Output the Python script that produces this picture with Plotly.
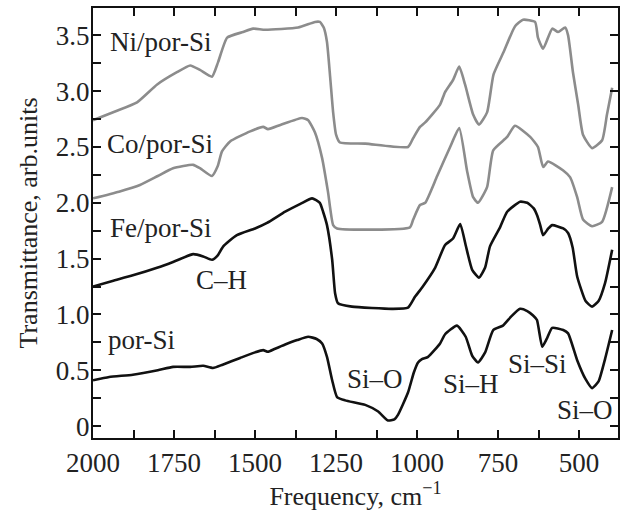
import plotly.graph_objects as go

# ---- data (frequency cm^-1, transmittance arb. units) ----
por_f = [2000, 1950, 1877, 1800, 1753, 1700, 1660, 1630, 1600, 1546, 1500, 1475, 1460, 1440, 1407, 1370, 1336,
         1310, 1293, 1278, 1262, 1247, 1222, 1160, 1120, 1090, 1070, 1059, 1028, 1010, 997, 985, 966, 929, 914,
         877, 850, 830, 812, 790, 765, 735, 710, 682, 660, 642, 630, 614, 600, 583, 549, 534, 506, 480, 460,
         440, 420, 398]
por_y = [0.41, 0.44, 0.46, 0.50, 0.53, 0.53, 0.54, 0.52, 0.55, 0.61, 0.66, 0.68, 0.665, 0.69, 0.73, 0.77, 0.80,
         0.78, 0.74, 0.62, 0.41, 0.26, 0.23, 0.19, 0.13, 0.05, 0.06, 0.10, 0.30, 0.48, 0.57, 0.60, 0.62, 0.74, 0.82,
         0.90, 0.80, 0.63, 0.57, 0.66, 0.86, 0.90, 0.98, 1.05, 1.03, 0.99, 0.95, 0.71, 0.78, 0.88, 0.86, 0.83, 0.59,
         0.42, 0.34, 0.40, 0.60, 0.86]

fe_f = [2000, 1940, 1877, 1800, 1753, 1691, 1660, 1633, 1615, 1598, 1556, 1500, 1463, 1407, 1360, 1324, 1300,
        1290, 1278, 1262, 1253, 1244, 1201, 1077, 1028, 1006, 985, 944, 914, 889, 867, 850, 830, 809, 790, 775,
        744, 722, 682, 660, 640, 630, 620, 611, 595, 583, 549, 534, 520, 506, 480, 460, 440, 420, 398]
fe_y = [1.25, 1.30, 1.35, 1.42, 1.47, 1.54, 1.52, 1.49, 1.53, 1.61, 1.71, 1.77, 1.82, 1.92, 1.99, 2.04, 2.00,
        1.92, 1.80, 1.49, 1.19, 1.10, 1.07, 1.05, 1.06, 1.16, 1.24, 1.42, 1.62, 1.68, 1.81, 1.62, 1.40, 1.33, 1.42,
        1.61, 1.78, 1.92, 2.01, 2.00, 1.95, 1.89, 1.80, 1.71, 1.77, 1.80, 1.77, 1.73, 1.60, 1.34, 1.12, 1.07,
        1.12, 1.28, 1.58]

co_f = [2000, 1920, 1855, 1800, 1753, 1691, 1670, 1633, 1615, 1602, 1577, 1515, 1475, 1460, 1420, 1355, 1336,
        1315, 1293, 1275, 1259, 1247, 1022, 1012, 991, 975, 938, 898, 870, 846, 827, 812, 784, 765, 722, 698,
        651, 627, 611, 596, 549, 528, 506, 488, 460, 429, 398]
co_y = [2.04, 2.10, 2.16, 2.24, 2.31, 2.34, 2.31, 2.24, 2.33, 2.46, 2.55, 2.64, 2.68, 2.66, 2.70, 2.76, 2.74,
        2.63, 2.40, 2.10, 1.80, 1.77, 1.78, 1.85, 1.98, 2.00, 2.24, 2.50, 2.67, 2.29, 2.05, 2.00, 2.14, 2.47, 2.59,
        2.69, 2.59, 2.50, 2.32, 2.37, 2.29, 2.23, 2.05, 1.85, 1.79, 1.83, 2.14]

ni_f = [2000, 1930, 1864, 1802, 1741, 1700, 1670, 1633, 1614, 1586, 1537, 1506, 1469, 1367, 1315, 1300, 1288,
        1278, 1268, 1259, 1250, 1238, 1160, 1028, 1012, 991, 975, 929, 914, 889, 870, 852, 827, 809, 784, 764,
        733, 698, 673, 636, 627, 611, 583, 565, 543, 534, 519, 503, 488, 460, 429, 414, 398]
ni_y = [2.74, 2.82, 2.90, 3.06, 3.17, 3.23, 3.19, 3.13, 3.26, 3.48, 3.53, 3.56, 3.55, 3.57, 3.62, 3.62, 3.57,
        3.44, 3.12, 2.81, 2.61, 2.54, 2.53, 2.50, 2.58, 2.68, 2.72, 2.88, 2.99, 3.10, 3.22, 3.06, 2.79, 2.70, 2.81,
        3.15, 3.35, 3.58, 3.64, 3.62, 3.48, 3.38, 3.56, 3.53, 3.57, 3.50, 3.17, 2.88, 2.61, 2.49, 2.56, 2.79, 3.03]

x_tick_vals = [2000, 1750, 1500, 1250, 1000, 750, 500]
x_tick_text = ["2000", "1750", "1500", "1250", "1000", "750", "500"]
x_minor_vals = [1875, 1625, 1375, 1125, 875, 625]
y_tick_vals = [0, 0.5, 1.0, 1.5, 2.0, 2.5, 3.0, 3.5]
y_tick_text = ["0", "0.5", "1.0", "1.5", "2.0", "2.5", "3.0", "3.5"]
y_minor_vals = [0.25, 0.75, 1.25, 1.75, 2.25, 2.75, 3.25]

labels = ["Ni/por-Si", "Co/por-Si", "Fe/por-Si", "C–H", "por-Si", "Si–O", "Si–H", "Si–Si", "Si–O"]
label_f = [1793, 1793, 1793, 1602, 1849, 1130, 833, 627, 482]
label_y = [3.44, 2.53, 1.77, 1.31, 0.77, 0.42, 0.38, 0.56, 0.14]

GRAY = "#8c8c8c"
BLACK = "#111111"
FONT = "Liberation Serif"

fig = go.Figure()
for f, y, c in [(ni_f, ni_y, GRAY), (co_f, co_y, GRAY), (fe_f, fe_y, BLACK), (por_f, por_y, BLACK)]:
    fig.add_trace(go.Scatter(x=f, y=y, mode="lines",
                             line=dict(color=c, width=2.6, shape="spline", smoothing=0.5),
                             showlegend=False, hoverinfo="skip"))

for t, fx, fy in zip(labels, label_f, label_y):
    fig.add_annotation(x=fx, y=fy, text=t, showarrow=False, xanchor="center", yanchor="middle",
                       font=dict(family=FONT, size=27, color="#222"))

axis_common = dict(showline=True, linewidth=2, linecolor="#111", mirror="allticks", ticks="inside",
                   ticklen=8, tickwidth=1.5, tickcolor="#111", showgrid=False, zeroline=False,
                   tickfont=dict(family=FONT, size=27, color="#222"))
fig.update_xaxes(range=[2000, 380], tickmode="array", tickvals=x_tick_vals, ticktext=x_tick_text,
                 minor=dict(tickmode="array", tickvals=x_minor_vals, ticks="inside", ticklen=8,
                            tickwidth=1.5, tickcolor="#111", showgrid=False),
                 title=dict(text="Frequency, cm<sup>−1</sup>", standoff=6,
                            font=dict(family=FONT, size=26, color="#222")),
                 **axis_common)
fig.update_yaxes(range=[-0.107, 3.745], tickmode="array", tickvals=y_tick_vals, ticktext=y_tick_text,
                 minor=dict(tickmode="array", tickvals=y_minor_vals, ticks="inside", ticklen=8,
                            tickwidth=1.5, tickcolor="#111", showgrid=False),
                 title=dict(text="Transmittance, arb.units", standoff=11,
                            font=dict(family=FONT, size=26, color="#222")),
                 ticklabelstandoff=-4, **axis_common)

fig.update_layout(width=620, height=514, margin=dict(l=93, r=2, t=8, b=76, autoexpand=False),
                  plot_bgcolor="white", paper_bgcolor="white")
fig.write_html("out.html")
